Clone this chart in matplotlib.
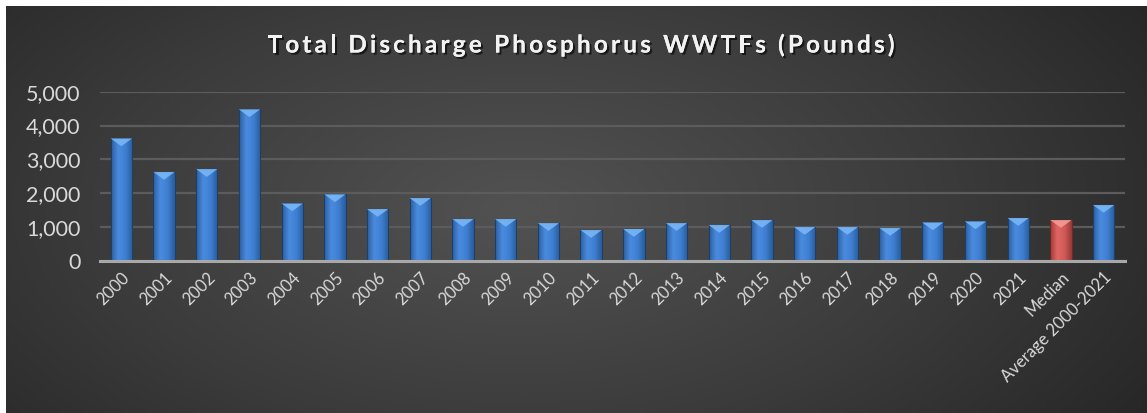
import numpy as np
import matplotlib
matplotlib.use("Agg")
import matplotlib.pyplot as plt
import matplotlib.patheffects as pe
from matplotlib.patches import Polygon
from matplotlib.colors import LinearSegmentedColormap
from matplotlib.font_manager import FontProperties

categories = [str(y) for y in range(2000, 2022)] + ["Median", "Average 2000-2021"]
values = [3620, 2630, 2715, 4480, 1700, 1970, 1535, 1860, 1240, 1240,
          1120, 915, 945, 1120, 1065, 1210, 1005, 1005, 975, 1140,
          1170, 1270, 1210, 1655]
highlight = "Median"

title = "Total Discharge Phosphorus WWTFs (Pounds)"

fig = plt.figure(figsize=(11.47, 4.13), dpi=100)
fig.patch.set_facecolor("white")

# radial dark background
bg = fig.add_axes([6 / 1147, 0, 1 - 6 / 1147, 1 - 6 / 413], zorder=-5)
gx, gy = np.meshgrid(np.linspace(0, 1, 400), np.linspace(0, 1, 150))
r = np.sqrt(((gx - 0.45) / 0.75) ** 2 + ((gy - 0.5) / 1.1) ** 2)
bg_cmap = LinearSegmentedColormap.from_list("bg", ["#525252", "#3b3b3b", "#202020"])
bg.imshow(np.clip(r, 0, 1), cmap=bg_cmap, aspect="auto", extent=[0, 1, 0, 1],
          vmin=0, vmax=1, origin="lower")
bg.set_axis_off()

ax = fig.add_axes([100 / 1147, 1 - 261 / 413, 1025 / 1147, (261 - 91.7) / 413])
ax.patch.set_alpha(0)
x = np.arange(len(categories))
ax.set_xlim(-0.5, len(categories) - 0.5)
ax.set_ylim(0, 5000)

blue = LinearSegmentedColormap.from_list("b", ["#2b5f9e", "#4a8be0", "#3f7fd2", "#2a5c99"])
red = LinearSegmentedColormap.from_list("r", ["#9e3b38", "#e06662", "#d05a57", "#983a37"])

bars = ax.bar(x, values, width=0.5, color="none", edgecolor="#1d3f6a",
              linewidth=0.8, zorder=3)
grad = np.linspace(0, 1, 64).reshape(1, -1)
for cat, b in zip(categories, bars):
    is_hi = cat == highlight
    cm = red if is_hi else blue
    x0, w, h = b.get_x(), b.get_width(), b.get_height()
    im = ax.imshow(grad, cmap=cm, aspect="auto", extent=[x0, x0 + w, 0, h],
                   zorder=2, interpolation="bicubic")
    im.set_clip_path(b)
    b.set_edgecolor("#6e2826" if is_hi else "#1d3f6a")
    tri_h = 230
    top_col = "#f29a95" if is_hi else "#79b6f5"
    ax.add_patch(Polygon([[x0, h], [x0 + w, h], [x0 + w / 2, h - tri_h]],
                         closed=True, facecolor=top_col, edgecolor="none",
                         alpha=0.9, zorder=4))

ax.set_yticks(np.arange(0, 5001, 1000))
ax.yaxis.set_major_formatter(matplotlib.ticker.FuncFormatter(lambda v, p: f"{int(v):,}"))
ax.grid(axis="y", color="#5c5c5c", linewidth=1.6, zorder=0)
for s in ["top", "right", "left"]:
    ax.spines[s].set_visible(False)
ax.spines["bottom"].set_color("#a8a8a8")
ax.spines["bottom"].set_linewidth(2.2)
ax.spines["bottom"].set_zorder(5)
ax.tick_params(axis="y", length=0, pad=14, labelsize=15.5, labelcolor="#d9d9d9")
ax.tick_params(axis="x", length=0, pad=6, labelsize=12, labelcolor="#d9d9d9")
ax.set_xticks(x)
ax.set_xticklabels(categories, rotation=45, ha="right", rotation_mode="anchor",
                   family="Lato")
for lab in ax.get_yticklabels():
    lab.set_family("Lato")

# title with letter spacing, laid out character by character
fp = FontProperties(family="Lato", weight="bold", size=17.5)
renderer = fig.canvas.get_renderer()
def _w(s):
    return renderer.get_text_width_height_descent(s, fp, ismath=False)[0]
widths = [_w("x" + ch + "x") - _w("xx") for ch in title]
target_w = 627
track = (target_w - sum(widths)) / (len(title) - 1)
cx = 581 - target_w / 2
shadow = [pe.withSimplePatchShadow(offset=(1.5, -1.5), shadow_rgbFace="black", alpha=0.6),
          pe.Normal()]
for ch, w in zip(title, widths):
    if ch != " ":
        fig.text(cx / 1147, 0.891, ch, ha="left", va="center", fontproperties=fp,
                 color="#f2f2f2", path_effects=shadow)
    cx += w + track

fig.savefig("out.png", dpi=100)
